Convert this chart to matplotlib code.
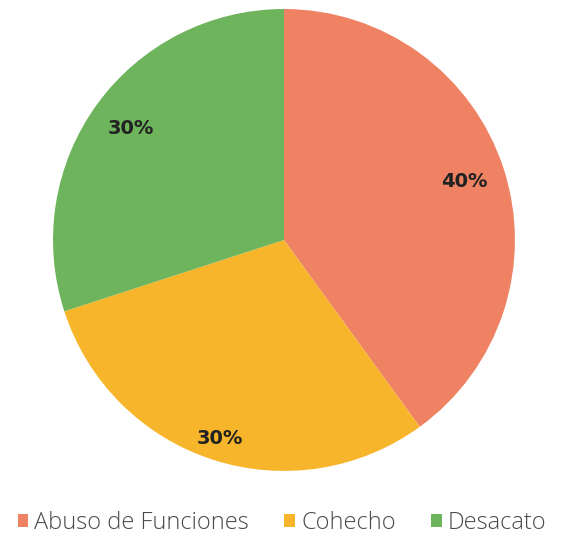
import numpy as np
import matplotlib.pyplot as plt
from matplotlib.patches import Patch

categories = ['Abuso de Funciones', 'Cohecho', 'Desacato']
values = [40, 30, 30]
colors = ['#EE8262', '#F7B52C', '#6DB45C']
label_dist = [0.82, 0.905, 0.82]

plt.rcParams['font.family'] = ['Open Sans', 'DejaVu Sans']

fig = plt.figure(figsize=(5.64, 5.40), dpi=100)
ax = fig.add_axes([0.094, 0.1278, 0.819, 0.8556])

wedges, _ = ax.pie(values, colors=colors, startangle=90, counterclock=False,
                   radius=1.0)
ax.set_xlim(-1, 1)
ax.set_ylim(-1, 1)
ax.set_aspect('equal')

for w, v, d in zip(wedges, values, label_dist):
    ang = np.deg2rad((w.theta1 + w.theta2) / 2)
    ax.text(d * np.cos(ang), d * np.sin(ang), f'{v}%', ha='center', va='center',
            fontsize=14, fontweight='bold', color='#222222',
            family='DejaVu Sans')

handles = [Patch(facecolor=c, edgecolor='none') for c in colors]
fig.legend(handles, categories, loc='center', bbox_to_anchor=(0.5, 1 - 523 / 540),
           ncol=3, frameon=False, handlelength=0.45, handleheight=0.45,
           handletextpad=0.25, columnspacing=1.5, labelcolor='#4a4a4a',
           prop={'family': 'Open Sans', 'size': 17, 'weight': 'light'})

fig.savefig('out.png', dpi=100)
